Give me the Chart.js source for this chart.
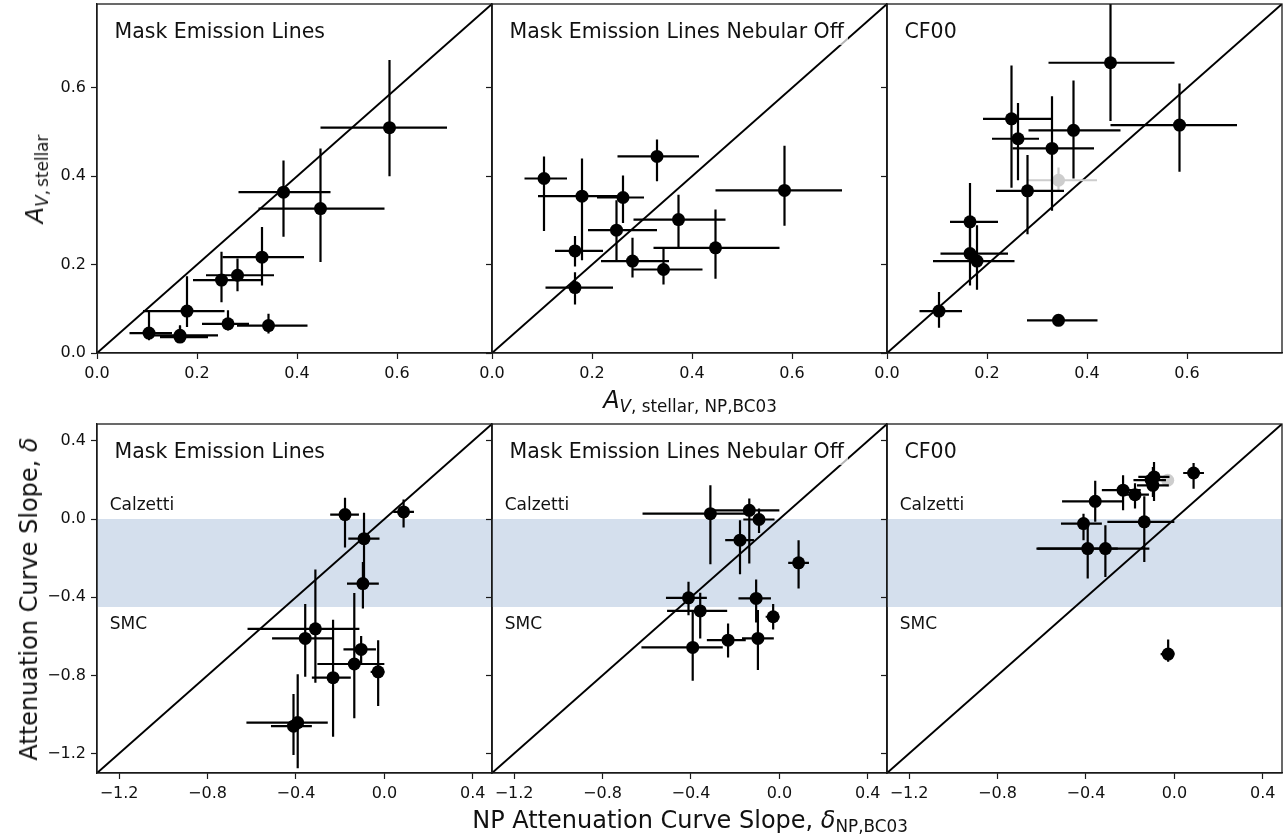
<!DOCTYPE html>
<html>
<head>
<meta charset="utf-8">
<script src="https://cdn.jsdelivr.net/npm/chart.js@4.4.1/dist/chart.umd.min.js"></script>
<style>
  body { margin: 0; background: #fff; width: 1285px; height: 839px; position: relative; overflow: hidden;
         font-family: "DejaVu Sans", sans-serif; color: #111; }
  canvas { position: absolute; }
  .t { position: absolute; white-space: nowrap; line-height: 1; }
  .t sub { font-size: 0.7em; vertical-align: baseline; position: relative; top: 0.28em; line-height: 0; }
  .t i { font-style: italic; }
</style>
</head>
<body>
<script>
// axis setup
var topTicks = [0.0, 0.2, 0.4, 0.6];
var topLim = [0, 0.79];
var botTicks = [-1.2, -0.8, -0.4, 0.0, 0.4];
var botLim = [-1.30, 0.487];
var calzettiSlope = 0.0;
var smcSlope = -0.45;

// top row: A_V from NP BC03 fit (x), same galaxies in all three panels
var avNP   = [0.585, 0.373, 0.447, 0.330, 0.281, 0.249, 0.180, 0.262, 0.343, 0.104, 0.166, 0.166];
var avNPLo = [0.447, 0.283, 0.323, 0.251, 0.218, 0.192, 0.092, 0.210, 0.280, 0.065, 0.126, 0.107];
var avNPHi = [0.700, 0.467, 0.575, 0.414, 0.354, 0.330, 0.255, 0.304, 0.421, 0.150, 0.222, 0.242];

var avMask   = [0.510, 0.364, 0.327, 0.217, 0.176, 0.165, 0.095, 0.066, 0.062, 0.045, 0.036, 0.040];
var avMaskLo = [0.400, 0.263, 0.206, 0.153, 0.140, 0.115, 0.059, 0.051, 0.044, 0.029, 0.025, 0.028];
var avMaskHi = [0.663, 0.436, 0.463, 0.285, 0.214, 0.229, 0.174, 0.097, 0.089, 0.097, 0.063, 0.060];

var avNeb   = [0.368, 0.302, 0.238, 0.445, 0.208, 0.278, 0.355, 0.352, 0.189, 0.395, 0.231, 0.148];
var avNebLo = [0.288, 0.240, 0.168, 0.389, 0.171, 0.210, 0.210, 0.294, 0.155, 0.276, 0.196, 0.110];
var avNebHi = [0.469, 0.358, 0.325, 0.483, 0.261, 0.346, 0.440, 0.402, 0.236, 0.445, 0.265, 0.183];

var avCF   = [0.516, 0.504, 0.657, 0.463, 0.367, 0.530, 0.208, 0.485, 0.074, 0.095, 0.297, 0.225];
var avCFLo = [0.410, 0.395, 0.525, 0.322, 0.269, 0.374, 0.143, 0.391, 0.065, 0.057, 0.210, 0.153];
var avCFHi = [0.610, 0.617, 0.800, 0.581, 0.448, 0.651, 0.289, 0.566, 0.083, 0.138, 0.385, 0.300];

// grey (flagged) point in CF00 panel
var avFlagX = [0.343], avFlagXLo = [0.280], avFlagXHi = [0.420];
var avFlagY = [0.391], avFlagYLo = [0.365], avFlagYHi = [0.420];

// bottom row: attenuation curve slope delta
var dNP   = [0.087, -0.178, -0.092, -0.097, -0.312, -0.358, -0.105, -0.136, -0.028, -0.232, -0.392, -0.411];
var dNPLo = [0.040, -0.245, -0.163, -0.169, -0.619, -0.508, -0.185, -0.303, -0.062, -0.328, -0.624, -0.513];
var dNPHi = [0.134, -0.115, -0.022, -0.025, -0.113, -0.236, -0.038, 0.000, 0.000, -0.152, -0.256, -0.328];

var dMask   = [0.037, 0.023, -0.100, -0.330, -0.562, -0.611, -0.667, -0.742, -0.782, -0.812, -1.042, -1.060];
var dMaskLo = [-0.043, -0.146, -0.309, -0.458, -0.838, -0.807, -0.739, -1.020, -0.957, -1.114, -1.276, -1.208];
var dMaskHi = [0.100, 0.110, 0.032, -0.219, -0.258, -0.435, -0.599, -0.378, -0.620, -0.515, -0.794, -0.896];

var dNeb   = [-0.224, -0.108, -0.002, -0.611, 0.028, -0.470, -0.406, 0.045, -0.500, -0.620, -0.657, -0.403];
var dNebLo = [-0.355, -0.282, -0.071, -0.773, -0.231, -0.611, -0.529, -0.227, -0.565, -0.708, -0.828, -0.492];
var dNebHi = [-0.108, -0.006, 0.054, -0.466, 0.173, -0.377, -0.309, 0.105, -0.435, -0.534, -0.470, -0.321];

var dCF   = [0.236, 0.125, 0.216, 0.173, -0.151, 0.091, 0.200, -0.014, -0.691, 0.148, -0.151, -0.023];
var dCFLo = [0.156, 0.054, 0.093, 0.113, -0.296, -0.014, 0.160, -0.219, -0.730, 0.045, -0.304, -0.108];
var dCFHi = [0.287, 0.183, 0.292, 0.267, -0.031, 0.196, 0.240, 0.117, -0.616, 0.225, -0.031, 0.028];

var dFlagX = [-0.030], dFlagXLo = [-0.052], dFlagXHi = [-0.006];
var dFlagY = [0.199], dFlagYLo = [0.185], dFlagYHi = [0.215];

var colX = [97, 492, 887];
var rowY = [4, 424];
var PW = 395, PH = 349;

function pts(x, xlo, xhi, y, ylo, yhi) {
  return {
    data: x.map(function(v, i) { return {x: v, y: y[i]}; }),
    err: x.map(function(v, i) { return {xlo: xlo[i], xhi: xhi[i], ylo: ylo[i], yhi: yhi[i]}; })
  };
}

var panels = [
  {col: 0, row: 0, title: 'Mask Emission Lines', main: pts(avNP, avNPLo, avNPHi, avMask, avMaskLo, avMaskHi)},
  {col: 1, row: 0, title: 'Mask Emission Lines Nebular Off', main: pts(avNP, avNPLo, avNPHi, avNeb, avNebLo, avNebHi)},
  {col: 2, row: 0, title: 'CF00', main: pts(avNP, avNPLo, avNPHi, avCF, avCFLo, avCFHi),
   flag: pts(avFlagX, avFlagXLo, avFlagXHi, avFlagY, avFlagYLo, avFlagYHi)},
  {col: 0, row: 1, title: 'Mask Emission Lines', main: pts(dNP, dNPLo, dNPHi, dMask, dMaskLo, dMaskHi)},
  {col: 1, row: 1, title: 'Mask Emission Lines Nebular Off', main: pts(dNP, dNPLo, dNPHi, dNeb, dNebLo, dNebHi)},
  {col: 2, row: 1, title: 'CF00', main: pts(dNP, dNPLo, dNPHi, dCF, dCFLo, dCFHi),
   flag: pts(dFlagX, dFlagXLo, dFlagXHi, dFlagY, dFlagYLo, dFlagYHi)}
];

// error bars drawn just before their dataset, clipped to the axes
var errorBars = {
  id: 'errorBars',
  beforeDatasetDraw: function(chart, args) {
    var ds = chart.data.datasets[args.index];
    if (!ds.err) return;
    var xs = chart.scales.x, ys = chart.scales.y, ctx = chart.ctx, a = chart.chartArea;
    ctx.save();
    ctx.beginPath();
    ctx.rect(a.left, a.top, a.right - a.left, a.bottom - a.top);
    ctx.clip();
    ctx.strokeStyle = ds.backgroundColor;
    ctx.lineWidth = 2.2;
    ds.data.forEach(function(p, i) {
      var e = ds.err[i];
      var px = xs.getPixelForValue(p.x), py = ys.getPixelForValue(p.y);
      ctx.beginPath();
      ctx.moveTo(xs.getPixelForValue(e.xlo), py);
      ctx.lineTo(xs.getPixelForValue(e.xhi), py);
      ctx.moveTo(px, ys.getPixelForValue(e.ylo));
      ctx.lineTo(px, ys.getPixelForValue(e.yhi));
      ctx.stroke();
    });
    ctx.restore();
  }
};

var frame = {
  id: 'frame',
  afterDraw: function(chart) {
    var a = chart.chartArea, ctx = chart.ctx;
    ctx.save();
    ctx.strokeStyle = '#1a1a1a';
    ctx.lineWidth = 1.3;
    ctx.strokeRect(a.left, a.top, a.right - a.left, a.bottom - a.top);
    ctx.restore();
  }
};

function fmt(v) {
  return (v < 0 ? '\u2212' : '') + Math.abs(v).toFixed(1);
}

function axis(lim, ticks, showLabels, fitFn) {
  return {
    type: 'linear', min: lim[0], max: lim[1],
    afterBuildTicks: function(s) { s.ticks = ticks.map(function(v) { return {value: v}; }); },
    afterFit: fitFn,
    ticks: {display: showLabels, autoSkip: false, maxRotation: 0, padding: 5, color: '#111',
            font: {family: 'DejaVu Sans', size: 16}, callback: fmt},
    grid: {drawOnChartArea: false, drawTicks: true, tickLength: 6, tickWidth: 1.2, tickColor: '#1a1a1a'},
    border: {display: true, color: '#1a1a1a', width: 1.3}
  };
}

panels.forEach(function(p) {
  var left = colX[p.col], top = rowY[p.row];
  var padL = p.col === 0 ? 97 : 22, padR = 8, padT = 20, padB = 45;
  var lim = p.row === 0 ? topLim : botLim;
  var ticks = p.row === 0 ? topTicks : botTicks;
  var cv = document.createElement('canvas');
  cv.width = PW + padL + padR;
  cv.height = PH + padT + padB;
  cv.style.left = (left - padL) + 'px';
  cv.style.top = (top - padT) + 'px';
  document.body.appendChild(cv);

  var datasets = [];
  if (p.row === 1) {
    datasets.push({type: 'line', data: [{x: lim[0], y: calzettiSlope}, {x: lim[1], y: calzettiSlope}],
      showLine: true, borderWidth: 0, pointRadius: 0, fill: {value: smcSlope},
      backgroundColor: 'rgba(176,196,222,0.55)', order: 10});
  }
  datasets.push({type: 'line', data: [{x: lim[0], y: lim[0]}, {x: lim[1], y: lim[1]}],
    showLine: true, borderColor: '#000', borderWidth: 2, pointRadius: 0, fill: false, order: 9});
  if (p.flag) {
    datasets.push({data: p.flag.data, err: p.flag.err, backgroundColor: '#cdcdcd', borderWidth: 0,
      pointRadius: 6.5, order: 5});
  }
  datasets.push({data: p.main.data, err: p.main.err, backgroundColor: '#000', borderWidth: 0,
    pointRadius: 6.5, order: 1});

  new Chart(cv, {
    type: 'scatter',
    data: {datasets: datasets},
    options: {
      responsive: false, animation: false, events: [],
      layout: {autoPadding: false, padding: {left: 0, right: padR, top: padT, bottom: 0}},
      plugins: {legend: {display: false}, tooltip: {enabled: false}},
      scales: {
        x: axis(lim, ticks, true, function(s) { s.height = padB; }),
        y: axis(lim, ticks, p.col === 0, function(s) { s.width = padL; })
      }
    },
    plugins: [errorBars, frame]
  });
});

// text
function addText(html, x, baseline, size, opts) {
  opts = opts || {};
  var d = document.createElement('div');
  d.className = 't';
  d.innerHTML = html;
  d.style.fontSize = size + 'px';
  if (opts.rotate) {
    // x is the baseline position, baseline arg is the vertical centre
    d.style.left = (x - 0.346 * size) + 'px';
    d.style.top = baseline + 'px';
    d.style.transform = 'translate(-50%,-50%) rotate(-90deg)';
  } else {
    var pad = opts.pad || 0;
    d.style.top = (baseline - 0.846 * size - pad) + 'px';
    d.style.left = (x - pad) + 'px';
    if (opts.center) d.style.transform = 'translateX(-50%)';
    if (opts.bg) { d.style.background = opts.bg; d.style.padding = pad + 'px'; }
  }
  document.body.appendChild(d);
}

panels.forEach(function(p) {
  var left = colX[p.col], top = rowY[p.row];
  addText(p.title, left + 17.5, top + 34.3, 20.5,
          p.col === 1 ? {bg: 'rgba(255,255,255,0.7)', pad: 4} : {});
  if (p.row === 1) {
    addText('Calzetti', left + 12.7, 510.7, 17);
    addText('SMC', left + 12.7, 629.3, 17);
  }
});

addText('<i>A</i><sub><i>V</i>,\u2009stellar</sub>', 43, 178.5, 24, {rotate: true});
addText('Attenuation Curve Slope, <i>\u03b4</i>', 37, 598.5, 24, {rotate: true});
addText('<i>A</i><sub><i>V</i>, stellar, NP,BC03</sub>', 690, 408, 24, {center: true});
addText('NP Attenuation Curve Slope, <i>\u03b4</i><sub>NP,BC03</sub>', 690, 828, 24, {center: true});
</script>
</body>
</html>
